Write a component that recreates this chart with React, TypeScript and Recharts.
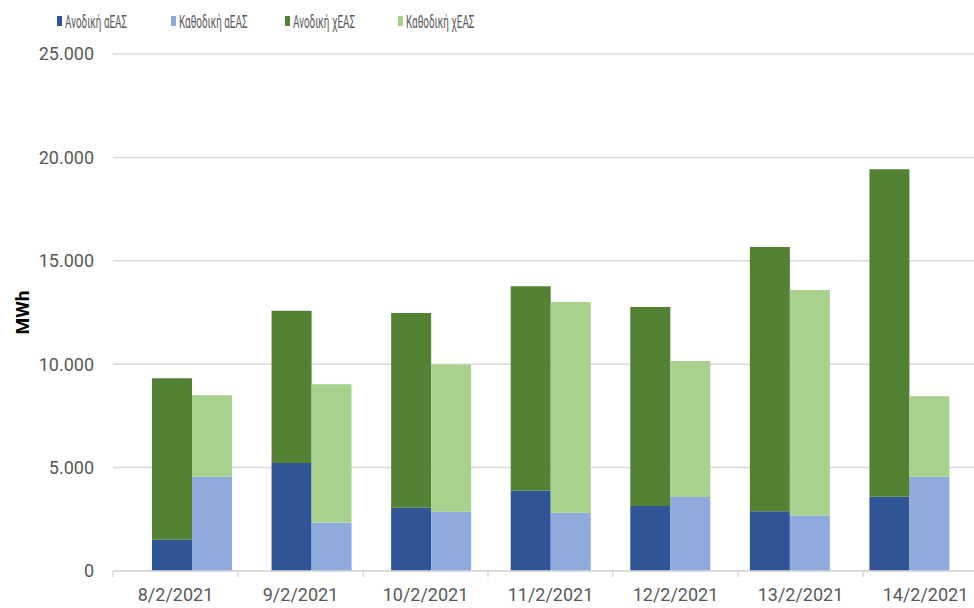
import { BarChart, Bar, XAxis, YAxis, CartesianGrid, Legend } from 'recharts';

const dates = ['8/2/2021', '9/2/2021', '10/2/2021', '11/2/2021', '12/2/2021', '13/2/2021', '14/2/2021'];
const upAfrr = [1510, 5220, 3060, 3890, 3140, 2890, 3590];
const downAfrr = [4560, 2340, 2870, 2820, 3580, 2680, 4560];
const upMfrr = [7810, 7360, 9410, 9880, 9630, 12780, 15840];
const downMfrr = [3940, 6690, 7110, 10190, 6580, 10910, 3890];
const yTicks = [0, 5000, 10000, 15000, 20000, 25000];
const seriesNames = ['Ανοδική αΕΑΣ', 'Καθοδική αΕΑΣ', 'Ανοδική χΕΑΣ', 'Καθοδική χΕΑΣ'];

const data = dates.map((d, i) => ({
  date: d,
  upA: upAfrr[i],
  downA: downAfrr[i],
  upX: upMfrr[i],
  downX: downMfrr[i],
}));

const fmt = (v: number) => String(v).replace(/\B(?=(\d{3})+(?!\d))/g, '.');

const FONT = 'Roboto, "Open Sans", sans-serif';
const GRID = '#d9d9d9';
const TEXT = '#595959';

// category label plus a small tick mark at the left edge of each category
// eslint-disable-next-line @typescript-eslint/no-explicit-any
const DateTick = ({ x, y, payload }: any) => {
  const half = payload.offset || 0;
  return (
    <g>
      <line x1={x - half} x2={x - half} y1={y} y2={y + 6} stroke={GRID} strokeWidth={1.5} />
      <text x={x} y={y + 30} textAnchor="middle" fill={TEXT} fontSize={18} fontFamily={FONT}>
        {payload.value}
      </text>
    </g>
  );
};

// eslint-disable-next-line @typescript-eslint/no-explicit-any
const LegendContent = ({ payload }: any) => {
  const items = [...(payload || [])].sort(
    (a: any, b: any) => seriesNames.indexOf(a.value) - seriesNames.indexOf(b.value)
  );
  return (
    <div style={{ display: 'flex', alignItems: 'center', height: 30, paddingLeft: 57, fontFamily: FONT }}>
      {items.map((p: any) => (
        <div key={p.value} style={{ width: 113.8, display: 'flex', alignItems: 'center' }}>
          <span style={{ width: 5, height: 10, background: p.color, marginRight: 3, flex: 'none' }} />
          <span
            style={{
              display: 'inline-block',
              whiteSpace: 'nowrap',
              fontSize: 19,
              color: TEXT,
              transform: 'scaleX(0.52)',
              transformOrigin: 'left center',
            }}
          >
            {p.value}
          </span>
        </div>
      ))}
    </div>
  );
};

export default function App() {
  return (
    <div style={{ position: 'fixed', left: 0, top: 0, width: 974, height: 608, overflow: 'hidden', background: '#fff' }}>
      <BarChart width={1000} height={608} data={data} margin={{ top: 24, right: 12, bottom: 0, left: 0 }} barGap={0}>
        <CartesianGrid vertical={false} stroke={GRID} strokeWidth={1.5} xAxisId="labels" />
        <XAxis
          xAxisId="labels"
          dataKey="date"
          height={37}
          tickSize={0}
          tickMargin={0}
          tickLine={false}
          axisLine={{ stroke: GRID, strokeWidth: 1.5 }}
          tick={<DateTick />}
          interval={0}
        />
        <XAxis xAxisId="bars" dataKey="date" hide height={0} padding={{ left: 19, right: 19 }} />
        <YAxis
          domain={[0, 25000]}
          ticks={yTicks}
          width={113}
          axisLine={false}
          tickLine={false}
          tickSize={0}
          tickMargin={19}
          tickFormatter={fmt}
          tick={{ fill: TEXT, fontSize: 18, fontFamily: FONT }}
          label={{
            value: 'MWh',
            angle: -90,
            position: 'center',
            dx: -34,
            style: { fill: '#000', fontWeight: 700, fontSize: 19, fontFamily: FONT },
          }}
        />
        <Legend verticalAlign="top" content={<LegendContent />} wrapperStyle={{ top: 6, left: 0, width: 974 }} />
        <Bar xAxisId="bars" dataKey="upA" name={seriesNames[0]} stackId="up" fill="#2F5597" barSize={40} isAnimationActive={false} />
        <Bar xAxisId="bars" dataKey="downA" name={seriesNames[1]} stackId="down" fill="#8FAADC" barSize={40} isAnimationActive={false} />
        <Bar xAxisId="bars" dataKey="upX" name={seriesNames[2]} stackId="up" fill="#548235" barSize={40} isAnimationActive={false} />
        <Bar xAxisId="bars" dataKey="downX" name={seriesNames[3]} stackId="down" fill="#A9D18E" barSize={40} isAnimationActive={false} />
      </BarChart>
    </div>
  );
}
